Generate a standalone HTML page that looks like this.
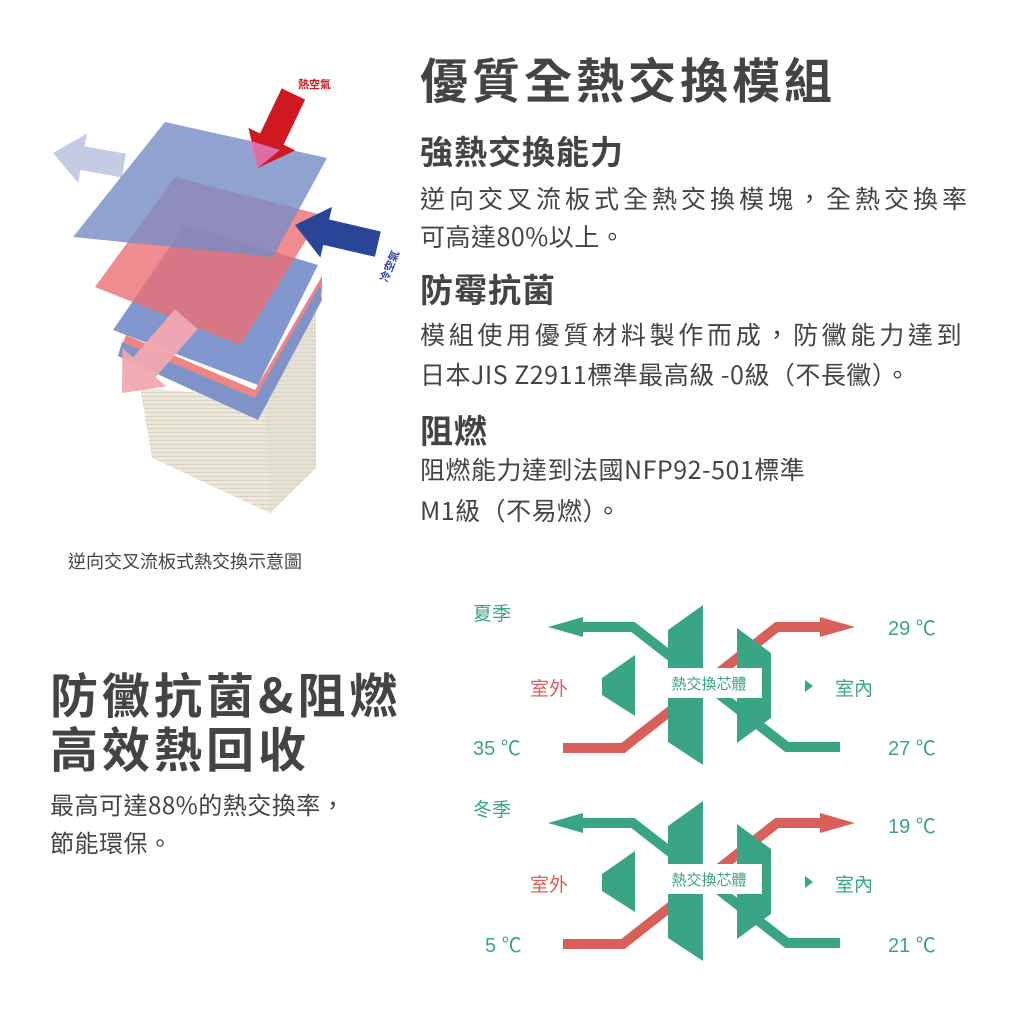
<!DOCTYPE html>
<html><head><meta charset="utf-8"><style>
html,body{margin:0;padding:0;background:#fff;}
body{width:1024px;height:1024px;overflow:hidden;position:relative;font-family:"Noto Sans CJK TC",sans-serif;color:#3d3d3d;}
.t{position:absolute;white-space:nowrap;line-height:1;}
</style></head><body>
<svg width="1024" height="1024" style="position:absolute;left:0;top:0" xmlns="http://www.w3.org/2000/svg">
<defs>
<pattern id="tex" width="4" height="4" patternUnits="userSpaceOnUse">
<rect width="4" height="4" fill="#ebe6da"/><rect width="4" height="1" fill="#d9d3c4"/><rect x="1" y="2" width="1" height="1" fill="#f6f2e8"/>
</pattern>
</defs>
<polygon points="140,388 265,398 270,513 152,458" fill="url(#tex)"/>
<polygon points="265,398 316,300 316,468 270,513" fill="#ddd7ca"/>
<polygon points="265,398 316,300 316,468 270,513" fill="url(#tex)" opacity="0.6"/>
<g transform="translate(53,153) rotate(10)"><polygon points="0,0 30,-25 30,-12 72,-12 72,12 30,12 30,25" fill="#c4cbe2"/></g>
<polygon points="126,335 255,390 322,276 322,292 257,410 120,350" fill="#ee8585"/>
<polygon points="122,342 255,398 320,285 322,300 258,420 118,356" fill="#7f93c8"/>
<polygon points="185,225 318,265 258,385 113,330" fill="rgba(115,140,200,0.9)"/>
<polygon points="175,177 322,215 240,345 95,287" fill="rgba(236,110,115,0.8)"/>
<polygon points="165,122 327,158 273,257 73,237" fill="rgba(120,142,196,0.82)"/>
<g transform="translate(258,168) rotate(-64.4)"><polygon points="0,0 32,-26 32,-13 82,-13 82,13 32,13 32,26" fill="#d01820"/></g>
<polygon points="258,168 248,140 280,150" fill="#e07cc0" opacity="0.85"/>
<g transform="translate(295,225) rotate(13)"><polygon points="0,0 32,-26 32,-13 85,-13 85,13 32,13 32,26" fill="#2a4598"/></g>
<g transform="translate(122,393) rotate(-49)"><polygon points="0,0 34,-29 34,-15 98,-15 98,15 34,15 34,29" fill="#f2a6b0" opacity="0.95"/></g>
<text x="298" y="88" font-size="11" fill="#d01820" font-family="Noto Sans CJK TC,sans-serif" font-weight="bold">熱空氣</text>
<text x="0" y="0" font-size="11" fill="#2a4598" font-family="Noto Sans CJK TC,sans-serif" font-weight="bold" transform="translate(387,283) rotate(-68)">冷空氣</text>

<g id="d1">
<polyline points="840,747 787,747 633,627 575,627" fill="none" stroke="#3aa585" stroke-width="10"/>
<polygon points="548,627 583,617 583,637" fill="#3aa585"/>
<polyline points="563,748 623,748 777,627 826,627" fill="none" stroke="#d9605a" stroke-width="10"/>
<polygon points="855,627 820,617 820,637" fill="#d9605a"/>
<polygon points="668,630 703,605 703,765 668,742" fill="#3aa585"/>
<polygon points="737,628 771,653 771,718 737,743" fill="#3aa585"/>
<polygon points="602,678 635,655 635,716 602,695" fill="#3aa585"/>
<polygon points="805,680 813,686 805,692" fill="#3aa585"/>
<rect x="657" y="668" width="105" height="30" fill="#fff"/>
<text x="709" y="689" font-size="15" fill="#3aa585" text-anchor="middle" font-family="Noto Sans CJK TC,sans-serif">熱交換芯體</text>
<text x="530" y="695" font-size="19" fill="#d9605a" font-family="Noto Sans CJK TC,sans-serif">室外</text>
<text x="835" y="695" font-size="19" fill="#3aa585" font-family="Noto Sans CJK TC,sans-serif">室內</text>
</g>
<use href="#d1" transform="translate(0,196)"/>
<g font-size="20" fill="#3aa585" font-family="Liberation Sans,Noto Sans CJK TC,sans-serif">
<text x="473" y="620" font-size="19" font-family="Noto Sans CJK TC,sans-serif">夏季</text>
<text x="888" y="635">29 ℃</text>
<text x="473" y="755">35 ℃</text>
<text x="888" y="755">27 ℃</text>
<text x="473" y="816" font-size="19" font-family="Noto Sans CJK TC,sans-serif">冬季</text>
<text x="888" y="833">19 ℃</text>
<text x="485" y="952">5 ℃</text>
<text x="888" y="952">21 ℃</text>
</g>
</svg>

<div class="t" style="left:420px;top:53px;font-size:48px;font-weight:bold;letter-spacing:4px;color:#444">優質全熱交換模組</div>
<div class="t" style="left:420px;top:134px;font-size:33px;font-weight:bold;letter-spacing:1px;color:#444">強熱交換能力</div>
<div class="t" style="left:420px;top:186px;font-size:25px;letter-spacing:4px;color:#444">逆向交叉流板式全熱交換模塊，全熱交換率</div>
<div class="t" style="left:420px;top:224px;font-size:25px;letter-spacing:0.5px;color:#444">可高達80%以上。</div>
<div class="t" style="left:420px;top:272px;font-size:33px;font-weight:bold;letter-spacing:1px;color:#444">防霉抗菌</div>
<div class="t" style="left:420px;top:322px;font-size:25px;letter-spacing:3.7px;color:#444">模組使用優質材料製作而成，防黴能力達到</div>
<div class="t" style="left:420px;top:362px;font-size:25px;letter-spacing:0.5px;color:#444">日本JIS Z2911標準最高級 -0級（不長黴）。</div>
<div class="t" style="left:420px;top:413px;font-size:33px;font-weight:bold;letter-spacing:1px;color:#444">阻燃</div>
<div class="t" style="left:420px;top:457px;font-size:25px;letter-spacing:0.5px;color:#444">阻燃能力達到法國NFP92-501標準</div>
<div class="t" style="left:420px;top:498px;font-size:25px;letter-spacing:0.5px;color:#444">M1級（不易燃）。</div>

<div class="t" style="left:68px;top:552px;font-size:18px;color:#444">逆向交叉流板式熱交換示意圖</div>
<div class="t" style="left:50px;top:668px;font-size:48px;font-weight:bold;letter-spacing:4px;color:#444">防黴抗菌&amp;阻燃</div>
<div class="t" style="left:50px;top:722px;font-size:48px;font-weight:bold;letter-spacing:4px;color:#444">高效熱回收</div>
<div class="t" style="left:50px;top:792px;font-size:24px;letter-spacing:0.5px;color:#444">最高可達88%的熱交換率，</div>
<div class="t" style="left:50px;top:830px;font-size:24px;letter-spacing:0.5px;color:#444">節能環保。</div>
</body></html>
